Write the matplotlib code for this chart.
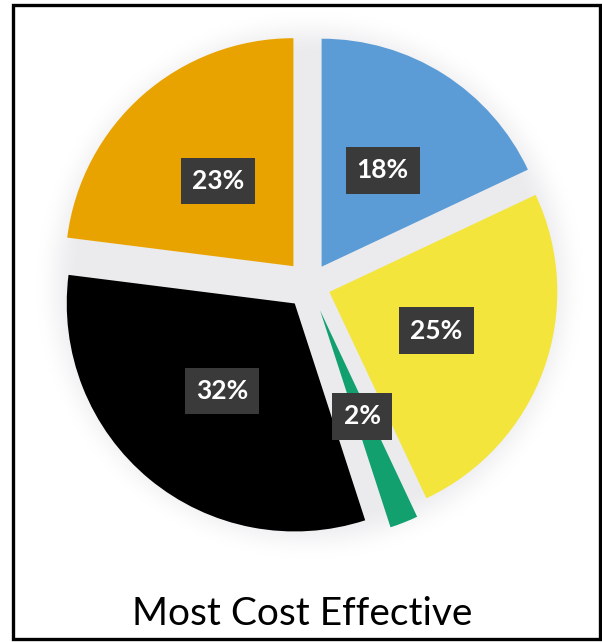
import numpy as np
import matplotlib
matplotlib.use("Agg")
import matplotlib.pyplot as plt
from matplotlib.patches import Rectangle

# ---- data ----
categories = ["Blue", "Yellow", "Green", "Black", "Orange"]
values = [18, 25, 2, 32, 23]
colors = ["#5b9bd6", "#f3e53b", "#12a06f", "#000000", "#e9a300"]
explode = [0.095, 0.09, 0.12, 0.105, 0.11]
title = "Most Cost Effective"

W, H = 602, 642
fig = plt.figure(figsize=(W / 100, H / 100), dpi=100)
fig.patch.set_facecolor("white")
ax = fig.add_axes([0, 0, 1, 1])

cx, cy, R = 310, 285, 228  # pixel position of pie centre and radius
xlim = (-cx / R, (W - cx) / R)
ylim = (-(H - cy) / R, cy / R)

# soft gray glow behind the pie
xs = np.linspace(xlim[0], xlim[1], 600)
ys = np.linspace(ylim[0], ylim[1], 640)
X, Y = np.meshgrid(xs, ys)
r = np.hypot(X, Y)
t = np.clip((1.21 - r) / 0.2, 0, 1)
alpha = t * t * (3 - 2 * t)
img = np.zeros(X.shape + (4,))
img[..., 0] = 0.925
img[..., 1] = 0.925
img[..., 2] = 0.935
img[..., 3] = alpha
ax.imshow(img, extent=(xlim[0], xlim[1], ylim[0], ylim[1]), origin="lower",
          zorder=0, interpolation="bilinear")

wedges, texts, autotexts = ax.pie(
    values, colors=colors, explode=explode, startangle=90, counterclock=False,
    autopct="%1.0f%%", pctdistance=0.5, radius=1,
    wedgeprops=dict(linewidth=0),
)
for w in wedges:
    w.set_zorder(2)
for at in autotexts:
    at.set_color("white")
    at.set_fontweight("bold")
    at.set_fontfamily("Lato")
    at.set_fontsize(19)
    at.set_zorder(5)
    at.set_bbox(dict(boxstyle="square,pad=0.42", fc="#3a3a3a", ec="none"))

ax.set_xlim(*xlim)
ax.set_ylim(*ylim)
ax.set_aspect("auto")
ax.axis("off")

fig.text(302 / W, 1 - 625 / H, title, ha="center", va="baseline",
         fontsize=28, family="Lato", color="black")

fig.add_artist(Rectangle((13 / W, 3 / H), (600 - 13) / W, (638 - 4) / H,
                         transform=fig.transFigure, fill=False,
                         ec="black", lw=2.4))

fig.savefig("out.png", dpi=100, facecolor="white")
